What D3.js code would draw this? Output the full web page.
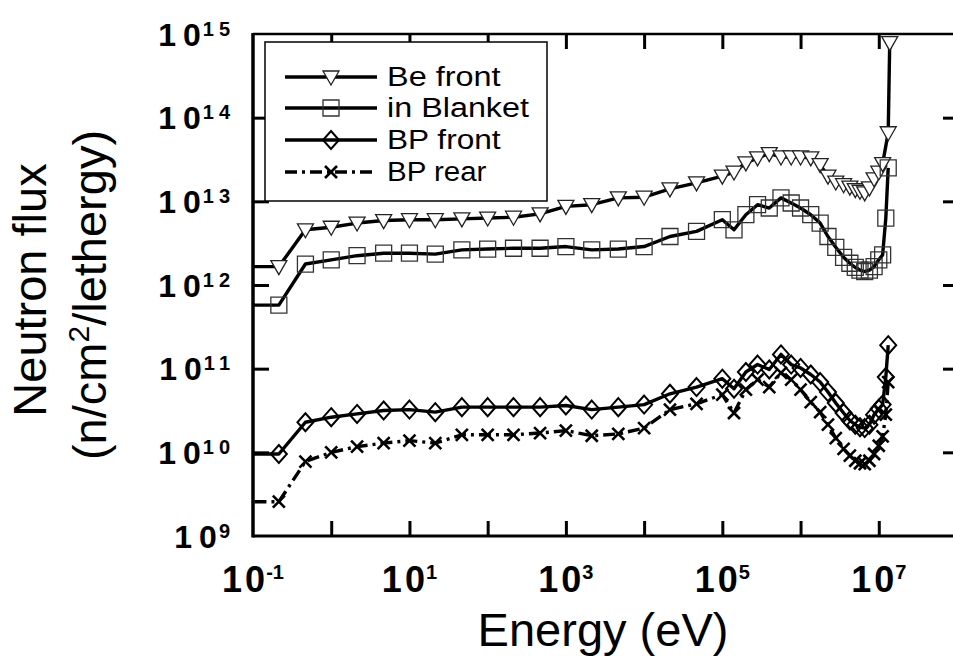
<!DOCTYPE html>
<html><head><meta charset="utf-8">
<script src="https://cdn.jsdelivr.net/npm/d3@7"></script>
<style>body{margin:0;background:#fff} svg{display:block}</style>
</head><body><svg id="c" width="953" height="656"></svg>
<script>
// ---------- data ----------
const energy = [0.05, 0.214, 0.468, 1, 2.14, 4.68, 10, 21.4, 46.8, 100, 214, 468, 1000, 2140, 4680,
  1e4, 2.14e4, 4.68e4, 1e5, 1.41e5, 2e5, 2.82e5, 3.98e5, 5.62e5, 7.59e5, 1e6, 1.35e6, 1.78e6,
  2.24e6, 2.82e6, 3.55e6, 4.27e6, 5.01e6, 5.75e6, 6.61e6, 7.59e6, 8.71e6, 1e7, 1.12e7, 1.23e7, 1.32e7, 1.38e7];
const beFront = [1.66e12, 1.66e12, 4.57e12, 4.90e12, 5.50e12, 5.89e12, 6.03e12, 6.03e12, 6.17e12, 6.31e12,
  6.46e12, 7.08e12, 8.71e12, 9.12e12, 1.10e13, 1.12e13, 1.41e13, 1.66e13, 2.00e13, 2.24e13, 2.88e13,
  3.31e13, 3.72e13, 3.39e13, 3.39e13, 3.39e13, 3.31e13, 2.75e13, 2.00e13, 1.70e13, 1.58e13, 1.48e13,
  1.38e13, 1.32e13, 1.26e13, 1.45e13, 1.86e13, 2.24e13, 2.82e13, null, 6.6e13, 7.9e14];
const inBlanket = [5.75e11, 5.75e11, 1.78e12, 2.0e12, 2.24e12, 2.40e12, 2.40e12, 2.34e12, 2.63e12, 2.69e12,
  2.75e12, 2.75e12, 2.88e12, 2.63e12, 2.69e12, 2.88e12, 3.80e12, 4.37e12, 6.03e12, 4.57e12, 6.92e12,
  9.12e12, 8.32e12, 1.10e13, 9.55e12, 8.32e12, 6.92e12, 5.50e12, 3.80e12, 2.82e12, 2.14e12, 1.82e12,
  1.62e12, 1.51e12, 1.45e12, 1.51e12, 1.66e12, 2.0e12, 2.29e12, 6.31e12, 2.51e13, null];
const bpFront = [9.55e9, 9.55e9, 2.29e10, 2.63e10, 2.88e10, 3.16e10, 3.24e10, 3.02e10, 3.47e10, 3.47e10,
  3.47e10, 3.47e10, 3.63e10, 3.24e10, 3.47e10, 3.72e10, 5.01e10, 6.03e10, 7.59e10, 5.75e10, 9.12e10,
  1.12e11, 9.77e10, 1.48e11, 1.12e11, 1.02e11, 8.51e10, 6.92e10, 5.25e10, 3.89e10, 2.95e10, 2.40e10,
  2.14e10, 2.0e10, 1.95e10, 2.14e10, 2.82e10, 3.31e10, 3.72e10, 7.94e10, 1.91e11, null];
const bpRear = [2.57e9, 2.57e9, 7.76e9, 1.0e10, 1.17e10, 1.29e10, 1.38e10, 1.29e10, 1.62e10, 1.62e10,
  1.62e10, 1.70e10, 1.82e10, 1.58e10, 1.66e10, 1.95e10, 3.24e10, 3.80e10, 4.90e10, 2.95e10, 5.62e10,
  7.41e10, 6.03e10, 8.91e10, 7.41e10, 5.62e10, 3.98e10, 3.02e10, 2.14e10, 1.48e10, 1.10e10, 9.12e9,
  7.94e9, 7.41e9, 7.24e9, 7.94e9, 9.55e9, 1.20e10, 1.55e10, 2.82e10, 6.92e10, null];
const seriesNames = ["Be front", "in Blanket", "BP front", "BP rear"];
const xMinorTicks = [1, 10, 100, 1e3, 1e4, 1e5, 1e6, 1e7];
const xLabelExps = [-1, 1, 3, 5, 7];
const yLabelExps = [9, 10, 11, 12, 13, 14, 15];
const xTitle = "Energy (eV)";
const yTitle1 = "Neutron flux";

// ---------- layout ----------
const L = 253, R = 957, T = 34, B = 536;
const svg = d3.select("#c");
const x = d3.scaleLog().domain([0.1, 1e8]).range([L, R]);
const y = d3.scaleLog().domain([1e9, 1e15]).range([B, T]);
const font = "'Liberation Sans', Arial, Helvetica, sans-serif";

svg.append("defs").append("clipPath").attr("id", "clip")
  .append("rect").attr("x", L).attr("y", T).attr("width", R - L).attr("height", B - T);

// ticks (inward)
const tickStyle = g => { g.select(".domain").remove(); g.selectAll(".tick line").attr("stroke", "#000").attr("stroke-width", 3); };
svg.append("g").attr("transform", `translate(0,${B})`)
  .call(d3.axisBottom(x).tickValues(xMinorTicks).tickSize(-15).tickFormat("")).call(tickStyle);
svg.append("g").attr("transform", `translate(0,${T})`)
  .call(d3.axisTop(x).tickValues(xMinorTicks).tickSize(-15).tickFormat("")).call(tickStyle);
const yT = yLabelExps.slice(1, -1).map(e => Math.pow(10, e));
svg.append("g").attr("transform", `translate(${L},0)`)
  .call(d3.axisLeft(y).tickValues(yT).tickSize(-16).tickFormat("")).call(tickStyle);
svg.append("g").attr("transform", `translate(${R},0)`)
  .call(d3.axisRight(y).tickValues(yT).tickSize(-14).tickFormat("")).call(tickStyle);

// series
const table = energy.map((e, i) => ({ e, v: [beFront[i], inBlanket[i], bpFront[i], bpRear[i]] }));
const line = d3.line().x(d => x(d[0])).y(d => y(d[1]));
const dashes = [null, null, null, "12,5,3,5"];
const plot = svg.append("g").attr("clip-path", "url(#clip)");
const triPath = "M-8,-6L8,-6L0,8Z";
const sqPath = "M-8,-8L8,-8L8,8L-8,8Z";
const diaPath = "M0,-9L8,0L0,9L-8,0Z";
const xPath = "M-6,-6L6,6M-6,6L6,-6";
const markers = [
  { d: triPath, fill: "#fff", stroke: "#222", sw: 1.3 },
  { d: sqPath, fill: "none", stroke: "#333", sw: 1.3 },
  { d: diaPath, fill: "none", stroke: "#000", sw: 2 },
  { d: xPath, fill: "none", stroke: "#000", sw: 2.6 }
];
seriesNames.forEach((name, k) => {
  const pts = table.filter(r => r.v[k] != null).map(r => [r.e, r.v[k]]);
  plot.append("path").attr("d", line(pts)).attr("fill", "none").attr("stroke", "#000")
    .attr("stroke-width", 3.4).attr("stroke-dasharray", dashes[k]).attr("stroke-linejoin", "round");
});
seriesNames.forEach((name, k) => {
  const pts = table.filter(r => r.v[k] != null && r.e >= 0.1).map(r => [r.e, r.v[k]]);
  const m = markers[k];
  plot.append("g").selectAll("path").data(pts).join("path")
    .attr("transform", d => `translate(${x(d[0])},${y(d[1])})`)
    .attr("d", m.d).attr("fill", m.fill).attr("stroke", m.stroke).attr("stroke-width", m.sw);
});

// frame
svg.append("line").attr("x1", L).attr("x2", L).attr("y1", T - 1).attr("y2", B + 1.5).attr("stroke", "#000").attr("stroke-width", 3.5);
svg.append("line").attr("x1", L).attr("x2", R).attr("y1", B).attr("y2", B).attr("stroke", "#000").attr("stroke-width", 3);
svg.append("line").attr("x1", L).attr("x2", R).attr("y1", T).attr("y2", T).attr("stroke", "#000").attr("stroke-width", 2.5);
svg.append("line").attr("x1", R).attr("x2", R).attr("y1", T).attr("y2", B).attr("stroke", "#000").attr("stroke-width", 3);

// legend
const lg = svg.append("g");
lg.append("rect").attr("x", 265).attr("y", 42).attr("width", 282).attr("height", 159)
  .attr("fill", "#fff").attr("stroke", "#000").attr("stroke-width", 1.5);
const legY = [77, 108, 140, 172];
seriesNames.forEach((name, k) => {
  const yy = legY[k];
  lg.append("line").attr("x1", 285).attr("x2", 377).attr("y1", yy).attr("y2", yy)
    .attr("stroke", "#000").attr("stroke-width", 3.4).attr("stroke-dasharray", dashes[k]);
  const m = markers[k];
  lg.append("path").attr("transform", `translate(331,${yy})`).attr("d", m.d)
    .attr("fill", k === 0 ? "#fff" : m.fill).attr("stroke", m.stroke).attr("stroke-width", m.sw);
  lg.append("text").attr("x", 387).attr("y", yy + 9).attr("font-family", font)
    .attr("font-size", 27).attr("textLength", name.length * 14.2).attr("lengthAdjust", "spacingAndGlyphs").text(name);
});

// y tick labels
yLabelExps.forEach(e => {
  const t = svg.append("text").attr("x", 230).attr("y", y(Math.pow(10, e)) + 11.5)
    .attr("text-anchor", "end").attr("font-family", font).attr("font-weight", "bold").attr("font-size", 32);
  t.append("tspan").text("1");
  t.append("tspan").attr("dx", 7).text("0");
  const ex = String(e);
  ex.split("").forEach((c, i) => {
    t.append("tspan").attr("font-size", 20).attr("dx", i === 0 ? 2 : 5)
      .attr("dy", i === 0 ? -10 : 0).text(c);
  });
});
// x tick labels
xLabelExps.forEach(e => {
  const t = svg.append("text").attr("x", x(Math.pow(10, e))).attr("y", 592)
    .attr("text-anchor", "middle").attr("font-family", font).attr("font-weight", "bold").attr("font-size", 36);
  t.append("tspan").text("1");
  t.append("tspan").attr("dx", 3).text("0");
  t.append("tspan").attr("font-size", 20).attr("dx", 1).attr("dy", -13).text(e < 0 ? "-1" : String(e));
});

// axis titles
svg.append("text").attr("x", (L + R) / 2 - 2).attr("y", 646).attr("text-anchor", "middle")
  .attr("font-family", font).attr("font-size", 47).text(xTitle);
svg.append("text").attr("transform", "translate(46,290) rotate(-90)").attr("text-anchor", "middle")
  .attr("font-family", font).attr("font-size", 47).text(yTitle1);
const t2 = svg.append("text").attr("transform", "translate(106,295) rotate(-90)").attr("text-anchor", "middle")
  .attr("font-family", font).attr("font-size", 47);
t2.append("tspan").text("(n/cm");
t2.append("tspan").attr("font-size", 30).attr("dy", -17).text("2");
t2.append("tspan").attr("dy", 17).text("/lethergy)");
</script></body></html>
